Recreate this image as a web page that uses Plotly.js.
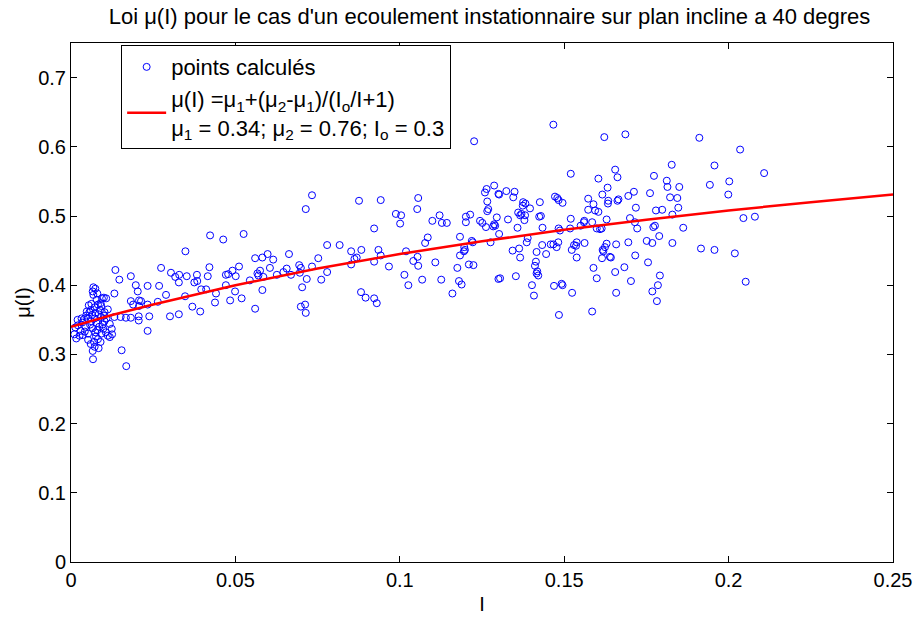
<!DOCTYPE html>
<html>
<head>
<meta charset="utf-8">
<script src="https://cdn.plot.ly/plotly-3.0.1.min.js"></script>
<style>html,body{margin:0;padding:0;background:#fff;}#chart{width:915px;height:618px;}</style>
</head>
<body>
<div id="chart"></div>
<script>
// Computed points: inertial number I and friction coefficient mu(I)
const pointsI = [
0.0068,0.0074,0.0066,0.0080,0.0068,0.0100,0.0107,0.0062,0.0082,0.0092,0.0054,0.0072,0.0090,0.0060,0.0048,0.0074,0.0084,0.0102,0.0112,0.0032,
0.0040,0.0052,0.0062,0.0072,0.0092,0.0102,0.0118,0.0124,0.0021,0.0013,0.0029,0.0042,0.0052,0.0066,0.0080,0.0092,0.0112,0.0118,0.0125,0.0016,
0.0036,0.0052,0.0070,0.0076,0.0090,0.0072,0.0060,0.0082,0.0086,0.0096,0.0058,0.0046,0.0064,0.0078,0.0088,0.0098,0.0106,0.0034,0.0044,0.0108,
0.0026,0.0010,0.0020,0.0056,0.0078,0.0094,0.0084,0.0066,0.0067,0.0100,0.0074,
0.0135,0.0147,0.0182,0.0274,0.0304,0.0329,0.0352,0.0383,0.0421,0.0471,0.0491,0.0511,0.0384,0.0375,0.0328,0.0317,0.0233,0.0268,0.0197,0.0203,
0.0182,0.0189,0.0207,0.0213,0.0233,0.0207,0.0289,0.0347,0.0396,0.0411,0.0441,0.0471,0.0499,0.0519,0.0501,0.0369,0.0393,0.0438,0.0484,0.0560,
0.0206,0.0206,0.0238,0.0264,0.0301,0.0328,0.0132,0.0167,0.0182,0.0151,0.0233,0.0154,0.0168,0.0132,0.0348,0.0416,0.0423,0.0463,0.0525,0.0478,
0.0560,0.0570,
0.0733,0.0714,0.0876,0.0942,0.1056,0.1053,0.0988,0.1004,0.1001,0.0922,0.1099,0.1121,0.1128,0.1143,0.1201,0.1214,0.1201,0.1244,0.1251,0.1262,
0.1259,0.1266,0.1269,0.1266,0.1287,0.1295,0.1290,0.1300,0.0582,0.0598,0.0615,0.0605,0.0575,0.0567,0.0585,0.0544,0.0582,0.0626,0.0646,0.0656,
0.0669,0.0663,0.0694,0.0699,0.0696,0.0717,0.0733,0.0752,0.0779,0.0817,0.0779,0.0761,0.0703,0.0699,0.0712,0.0714,0.0852,0.0869,0.0862,0.0883,
0.0852,0.0882,0.0896,0.0922,0.0930,0.0922,0.0935,0.0942,0.0967,0.1014,0.1026,0.1019,0.1041,0.1054,0.1056,0.1068,0.1077,0.1085,0.1108,0.1126,
0.1160,0.1175,0.1180,0.1188,0.1183,0.1183,0.1196,0.1198,0.1195,0.1219,0.1222,0.1210,0.1224,0.1276,0.1302,0.1300,0.1226,0.1264,
0.1467,0.1622,0.1686,0.1911,0.1827,0.1957,0.1943,0.2002,0.1999,0.1520,0.1655,0.1662,0.1604,0.1773,0.1812,0.1814,0.1850,0.1822,0.1844,0.1847,
0.1829,0.1862,0.1916,0.1957,0.1829,0.1789,0.1791,0.1785,0.1768,0.1782,0.1755,0.1761,0.1779,0.1798,0.1751,0.1768,0.1771,0.1776,0.1712,0.1695,
0.1718,0.1700,0.1715,0.1722,0.1695,0.1716,0.1683,0.1703,0.1658,0.1655,0.1658,0.1639,0.1642,0.1629,0.1624,0.1617,0.1619,0.1615,0.1599,0.1585,
0.1634,0.1633,0.1632,0.1616,0.1662,0.1665,0.1629,0.1604,0.1589,0.1594,0.1573,0.1573,0.1561,0.1585,0.1599,0.1609,0.1614,0.1562,0.1538,0.1530,
0.1536,0.1523,0.1538,0.1524,0.1589,0.1520,0.1550,0.1560,0.1518,0.1483,0.1495,0.1472,0.1479,0.1483,0.1487,0.1482,0.1477,0.1467,0.1459,0.1445,
0.1416,0.1433,0.1414,0.1411,0.1418,0.1416,0.1421,0.1402,0.1408,0.1469,0.1492,0.1495,0.1484,0.1426,0.1429,0.1424,0.1434,0.1396,0.1389,0.1386,
0.1375,0.1374,0.1382,0.1370,0.1366,0.1381,0.1379,0.1360,0.1358,0.1345,0.1349,0.1324,0.1302,0.1284,0.1287,0.1329,0.1343,0.1363,0.1366,0.1353,
0.1305,
0.2035,0.2108,0.2045,0.2080,0.2019,0.2052
];
const pointsMu = [
0.397,0.395,0.391,0.388,0.386,0.382,0.381,0.373,0.372,0.370,0.371,0.368,0.374,0.364,0.362,0.360,0.358,0.361,0.365,0.352,
0.351,0.352,0.348,0.352,0.354,0.348,0.344,0.337,0.342,0.339,0.334,0.333,0.330,0.338,0.335,0.330,0.327,0.325,0.329,0.323,
0.328,0.321,0.318,0.326,0.318,0.311,0.315,0.322,0.340,0.343,0.343,0.356,0.357,0.345,0.364,0.337,0.332,0.346,0.340,0.352,
0.327,0.329,0.350,0.361,0.379,0.381,0.309,0.305,0.293,0.356,0.332,
0.422,0.408,0.413,0.425,0.418,0.415,0.413,0.415,0.426,0.415,0.421,0.427,0.406,0.404,0.404,0.412,0.399,0.399,0.400,0.391,
0.377,0.372,0.378,0.377,0.372,0.370,0.386,0.384,0.394,0.394,0.388,0.400,0.391,0.381,0.413,0.369,0.362,0.375,0.378,0.366,
0.355,0.349,0.355,0.376,0.355,0.358,0.354,0.353,0.353,0.354,0.334,0.306,0.283,0.388,0.449,0.413,0.472,0.466,0.474,0.416,
0.439,0.414,
0.530,0.510,0.522,0.523,0.526,0.510,0.503,0.501,0.489,0.482,0.493,0.501,0.490,0.490,0.499,0.502,0.491,0.493,0.490,0.484,
0.534,0.521,0.510,0.507,0.544,0.498,0.486,0.532,0.440,0.445,0.437,0.425,0.421,0.417,0.412,0.407,0.393,0.415,0.419,0.424,
0.415,0.445,0.429,0.425,0.418,0.409,0.427,0.439,0.458,0.458,0.419,0.408,0.397,0.369,0.372,0.360,0.449,0.440,0.438,0.451,
0.430,0.390,0.382,0.381,0.374,0.434,0.451,0.443,0.427,0.415,0.400,0.449,0.435,0.441,0.428,0.408,0.461,0.469,0.433,0.408,
0.388,0.425,0.406,0.401,0.470,0.443,0.455,0.451,0.449,0.464,0.462,0.430,0.429,0.462,0.474,0.409,0.608,0.539,
0.632,0.614,0.618,0.613,0.574,0.573,0.545,0.550,0.531,0.561,0.567,0.556,0.554,0.558,0.551,0.542,0.542,0.527,0.526,0.512,
0.502,0.483,0.453,0.451,0.461,0.471,0.414,0.400,0.391,0.377,0.433,0.533,0.508,0.509,0.464,0.461,0.484,0.486,0.535,0.529,
0.512,0.497,0.491,0.482,0.462,0.443,0.426,0.406,0.389,0.419,0.459,0.441,0.440,0.460,0.455,0.451,0.449,0.439,0.410,0.362,
0.522,0.518,0.541,0.531,0.522,0.524,0.495,0.506,0.517,0.508,0.525,0.509,0.493,0.491,0.482,0.481,0.482,0.461,0.462,0.458,
0.457,0.451,0.440,0.389,0.425,0.496,0.486,0.491,0.482,0.523,0.519,0.528,0.526,0.482,0.479,0.462,0.455,0.459,0.459,0.445,
0.448,0.458,0.434,0.428,0.420,0.417,0.414,0.400,0.385,0.399,0.402,0.400,0.357,0.520,0.500,0.499,0.483,0.511,0.468,0.462,
0.520,0.515,0.518,0.503,0.501,0.501,0.494,0.505,0.483,0.527,0.535,0.536,0.531,0.485,0.488,0.495,0.450,0.453,0.440,0.413,
0.410,
0.596,0.562,0.497,0.499,0.446,0.405
];
// Fitted law curve
const curveI  = [0, 0.0125, 0.025, 0.05, 0.075, 0.1, 0.125, 0.15, 0.175, 0.2, 0.225, 0.25];
const curveMu = [0.340, 0.357, 0.372, 0.400, 0.424, 0.445, 0.4635, 0.480, 0.4947, 0.508, 0.520, 0.531];

const xTicks = [0, 0.05, 0.1, 0.15, 0.2, 0.25];
const xTickText = ['0', '0.05', '0.1', '0.15', '0.2', '0.25'];
const yTicks = [0, 0.1, 0.2, 0.3, 0.4, 0.5, 0.6, 0.7];
const yTickText = ['0', '0.1', '0.2', '0.3', '0.4', '0.5', '0.6', '0.7'];

const FONT = 'Liberation Sans, Arial, Helvetica, sans-serif';

const traces = [
  {
    x: pointsI, y: pointsMu, type: 'scatter', mode: 'markers',
    name: 'points calculés',
    marker: {symbol: 'circle-open', size: 7, color: '#0000ff', line: {width: 1, color: '#0000ff'}},
    cliponaxis: true
  },
  {
    x: curveI, y: curveMu, type: 'scatter', mode: 'lines',
    name: 'μ(I) =μ<sub>1</sub>+(μ<sub>2</sub>-μ<sub>1</sub>)/(I<sub>o</sub>/I+1)<br>μ<sub>1</sub> = 0.34; μ<sub>2</sub> = 0.76; I<sub>o</sub> = 0.3',
    line: {color: '#ff0000', width: 2.5}
  }
];

const axisCommon = {
  showgrid: false, zeroline: false, showline: true, linecolor: '#000', linewidth: 1,
  mirror: 'ticks', ticks: 'inside', ticklen: 6, tickcolor: '#000', tickwidth: 1,
  tickfont: {family: FONT, size: 20, color: '#000'}
};

const layout = {
  width: 915, height: 618,
  paper_bgcolor: '#fff', plot_bgcolor: '#fff',
  margin: {l: 71, r: 22, t: 43, b: 56},
  font: {family: FONT, size: 20, color: '#000'},
  title: {
    text: "Loi μ(I) pour le cas d'un ecoulement instationnaire sur plan incline a 40 degres",
    font: {family: FONT, size: 22, color: '#000'},
    x: 0.535, xanchor: 'center', y: 0.973, yanchor: 'middle', xref: 'container'
  },
  xaxis: Object.assign({}, axisCommon, {
    range: [0, 0.25], tickvals: xTicks, ticktext: xTickText,
    title: {text: 'I', font: {family: FONT, size: 20, color: '#000'}, standoff: 6}
  }),
  yaxis: Object.assign({}, axisCommon, {
    range: [0, 0.75], tickvals: yTicks, ticktext: yTickText,
    title: {text: 'μ(I)', font: {family: FONT, size: 20, color: '#000'}, standoff: 2}
  }),
  showlegend: true,
  legend: {
    x: 0.061, y: 0.996, xanchor: 'left', yanchor: 'top',
    bgcolor: '#fff', bordercolor: '#000', borderwidth: 1,
    font: {family: FONT, size: 22, color: '#000'},
    itemwidth: 39,
    tracegroupgap: 0
  }
};

Plotly.newPlot('chart', traces, layout, {staticPlot: true, displayModeBar: false});
</script>
</body>
</html>
